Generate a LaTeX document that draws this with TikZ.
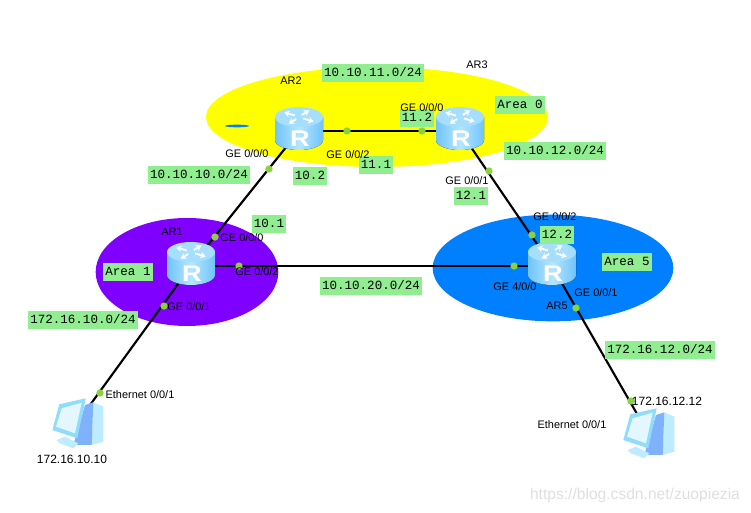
\documentclass[tikz,border=0pt]{standalone}
\usepackage{fontspec}
\setmainfont{Liberation Sans}
\newfontfamily\labfont{Liberation Mono}
\usepackage{xcolor}
\usepackage{tikz}
\usetikzlibrary{arrows.meta,shapes.geometric}
\definecolor{zonea}{HTML}{FFFF00}
\definecolor{zoneb}{HTML}{7F00FF}
\definecolor{zonec}{HTML}{0080FF}
\definecolor{tag}{HTML}{90EE90}
\definecolor{port}{HTML}{8CD23C}
\definecolor{rtside}{HTML}{6FC4FA}
\definecolor{rtmid}{HTML}{B5E6FF}
\definecolor{rttop}{HTML}{A6DFFD}
\definecolor{pcpale}{HTML}{BDEBFF}
\definecolor{pcedge}{HTML}{8FDCFB}
\definecolor{pcdark}{HTML}{7FB2FA}
\definecolor{pcscreen}{HTML}{E4F7FF}
\tikzset{
pics/router/.style={code={
\fill[left color=rtside,right color=rtside,middle color=rtmid] (-24,-14) -- (-24,9) arc[start angle=180,end angle=360,x radius=18pt,y radius=7.5pt] -- (24,-14) -- cycle;
\fill[rttop] (0,-14) ellipse[x radius=18pt,y radius=7.5pt];
\foreach \a in {35,125,215,305} {\draw[white,line width=1.4pt,-{Stealth[length=4pt,width=5pt]}] ({5*cos(\a)},{-14+2.5*sin(\a)}) -- ({18*cos(\a)},{-14+8*sin(\a)});}
\node[text=white,font=\bfseries\fontsize{17}{17}\selectfont,inner sep=0pt,xscale=1.2] (-r) at (1,8) {R};
}},
pics/station/.style={code={
\fill[pcpale] (16.3,-20.7) -- (26.3,-16.3) -- (26.3,18.7) -- (14.7,22) -- cycle;
\fill[pcdark] (8,-18) -- (16.3,-20.7) -- (14.7,22) -- (-3.7,22) -- cycle;
\fill[pcpale] (-20.3,17) -- (-12,13.7) -- (1.3,20.3) -- (-3.7,25.3) -- (-17,20.3) -- cycle;
\fill[pcedge] (-17.7,-18.7) -- (8.7,-24.7) -- (0.3,15.3) -- (-24.7,7) -- cycle;
\fill[pcscreen] (-15.3,-14.7) -- (4.7,-20.3) -- (-2,10.3) -- (-21,3.7) -- cycle;
}}
}
\begin{document}
\begin{tikzpicture}[x=0.75pt,y=-0.75pt,zone/.style={ellipse,inner sep=0pt},hub/.style={inner sep=0pt,minimum size=20pt},link/.style={draw=black,line width=1.6pt},dot/.style={circle,fill=port,inner sep=0pt,minimum size=5.5pt},net/.style={fill=tag,font=\labfont\fontsize{9.4}{10}\selectfont,inner xsep=1.5pt,inner ysep=2.5pt,text height=7pt,text depth=1.5pt},lab/.style={inner sep=0pt,font=\fontsize{8.2}{10}\selectfont}]
\useasboundingbox (0,0) rectangle (751,513);
\node[zone,fill=zonea,minimum width=256.5pt,minimum height=75pt] (area0) at (377,117) {};
\node[zone,fill=zoneb,minimum width=137pt,minimum height=81pt] (area1) at (187,272) {};
\node[zone,fill=zonec,minimum width=180.5pt,minimum height=80pt] (area5) at (553,268) {};
\node[zone,fill=zonec,minimum width=18pt,minimum height=2pt] (mark) at (237,126) {};
\node[hub] (ar2) at (299,131) {};
\node[hub] (ar3) at (460,131) {};
\node[hub] (ar1) at (191,266) {};
\node[hub] (ar5) at (552,266) {};
\node[hub] (pc1) at (77,423) {};
\node[hub] (pc2) at (648,433) {};
\draw[link] (ar2) -- (ar3);
\draw[link] (ar2) -- (ar1);
\draw[link] (ar3) -- (ar5);
\draw[link] (ar1) -- (ar5);
\draw[link] (ar1) -- (pc1);
\draw[link] (ar5) -- (pc2);
\node[dot] (p22) at (347,131) {};
\node[dot] (p30) at (422,131) {};
\node[dot] (p20) at (269,169) {};
\node[dot] (p10) at (215,237) {};
\node[dot] (p31) at (489,171) {};
\node[dot] (p52) at (532,235) {};
\node[dot] (p12) at (239,266) {};
\node[dot] (p54) at (514,266) {};
\node[dot] (p11) at (164,306) {};
\node[dot] (pe1) at (100,393) {};
\node[dot] (p51) at (576,308) {};
\node[dot] (pe2) at (631,401) {};
\pic (icon2) at (ar2) {router};
\pic (icon3) at (ar3) {router};
\pic (icon1) at (ar1) {router};
\pic (icon5) at (ar5) {router};
\pic (host1) at (pc1) {station};
\pic (host2) at (pc2) {station};
\node[net] (net11) at (373,73) {10.10.11.0/24};
\node[net] (net12) at (555,151) {10.10.12.0/24};
\node[net] (net10) at (199,175) {10.10.10.0/24};
\node[net] (net20) at (371,286) {10.10.20.0/24};
\node[net] (lan10) at (83,320) {172.16.10.0/24};
\node[net] (lan12) at (660,350) {172.16.12.0/24};
\node[net] (tarea0) at (520,105) {Area 0};
\node[net] (tarea1) at (128,272) {Area 1};
\node[net] (tarea5) at (627,262) {Area 5};
\node[net] (ip112) at (417,118) {11.2};
\node[net] (ip111) at (376,165) {11.1};
\node[net] (ip102) at (310,176) {10.2};
\node[net] (ip101) at (269,224) {10.1};
\node[net] (ip121) at (471,196) {12.1};
\node[net] (ip122) at (557,235) {12.2};
\node[lab] (nar1) at (172,232) {AR1};
\node[lab] (nar2) at (291,81) {AR2};
\node[lab] (nar3) at (477,65) {AR3};
\node[lab] (nar5) at (557,306) {AR5};
\node[lab] (g30) at (422,108) {GE 0/0/0};
\node[lab] (g20) at (247,154) {GE 0/0/0};
\node[lab] (g22) at (348,155) {GE 0/0/2};
\node[lab] (g31) at (467,181) {GE 0/0/1};
\node[lab] (g10) at (242,238) {GE 0/0/0};
\node[lab] (g12) at (257,272) {GE 0/0/2};
\node[lab] (g11) at (189,307) {GE 0/0/1};
\node[lab] (g52) at (555,217) {GE 0/0/2};
\node[lab] (g54) at (515,287) {GE 4/0/0};
\node[lab] (g51) at (596,293) {GE 0/0/1};
\node[lab] (e1) at (140,395) {Ethernet 0/0/1};
\node[lab] (e2) at (572,425) {Ethernet 0/0/1};
\node[lab,font=\fontsize{9}{10}\selectfont] (addr1) at (72,459) {172.16.10.10};
\node[lab,font=\fontsize{9}{10}\selectfont] (addr2) at (667,401) {172.16.12.12};
\node[lab,font=\fontsize{11.7}{12}\selectfont,text=gray!25] (mark2) at (635,495) {https://blog.csdn.net/zuopiezia};
\end{tikzpicture}
\end{document}
